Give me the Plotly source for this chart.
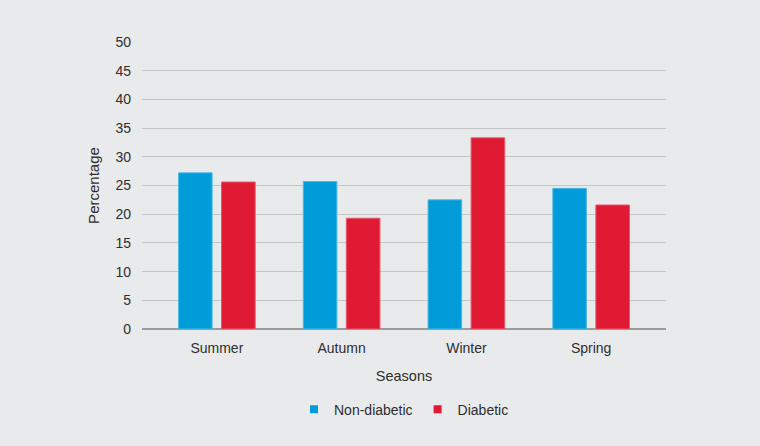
import plotly.graph_objects as go

seasons = ["Summer", "Autumn", "Winter", "Spring"]
non_diabetic = [27.2, 25.7, 22.5, 24.5]
diabetic = [25.6, 19.3, 33.3, 21.6]
y_ticks = [0, 5, 10, 15, 20, 25, 30, 35, 40, 45, 50]

BLUE = "#009bd9"
RED = "#e01a33"
BG = "#e9eaec"
FONT = "Liberation Sans, Arial, sans-serif"

fig = go.Figure()
fig.add_trace(go.Bar(x=seasons, y=non_diabetic, name="Non-diabetic", showlegend=False,
                     legendgroup="nd",
                     marker=dict(color=BLUE, line=dict(color="#4db8e4", width=1))))
fig.add_trace(go.Bar(x=seasons, y=diabetic, name="Diabetic", showlegend=False,
                     legendgroup="d",
                     marker=dict(color=RED, line=dict(color="#e8546a", width=1))))
# legend entries with small square keys
fig.add_trace(go.Scatter(x=[None], y=[None], mode="markers", name="Non-diabetic",
                         legendgroup="nd",
                         marker=dict(symbol="square", size=8, color=BLUE)))
fig.add_trace(go.Scatter(x=[None], y=[None], mode="markers", name="Diabetic",
                         legendgroup="d",
                         marker=dict(symbol="square", size=8, color=RED)))

fig.update_layout(
    width=760, height=446,
    paper_bgcolor=BG, plot_bgcolor=BG,
    margin=dict(l=142, r=94, t=42, b=117),
    barmode="group", bargap=0.31, bargroupgap=0.22,
    font=dict(family=FONT, size=14, color="#2e2e2e"),
    showlegend=True,
    legend=dict(orientation="h", x=0.5, xanchor="center", y=-0.225, yanchor="top",
                font=dict(size=14, color="#2e2e2e"), itemwidth=30,
                bgcolor="rgba(0,0,0,0)"),
    xaxis=dict(title=dict(text="Seasons", standoff=15, font=dict(size=14.5)),
               range=[-0.6, 3.6],
               showgrid=False, showline=False, ticks="", tickfont=dict(size=14),
               ticklabelstandoff=9),
    yaxis=dict(title=dict(text="Percentage", standoff=12, font=dict(size=15)),
               range=[0, 50], tickvals=y_ticks, showgrid=True,
               gridcolor="#c4c5c7", gridwidth=1, zeroline=True,
               zerolinecolor="#9a9b9d", zerolinewidth=1.5, ticks="",
               tickfont=dict(size=14), ticklabelstandoff=10),
)

fig.write_html("out.html", config={"displayModeBar": False},
               post_script="document.body.style.margin='0';document.body.style.overflow='hidden';")
